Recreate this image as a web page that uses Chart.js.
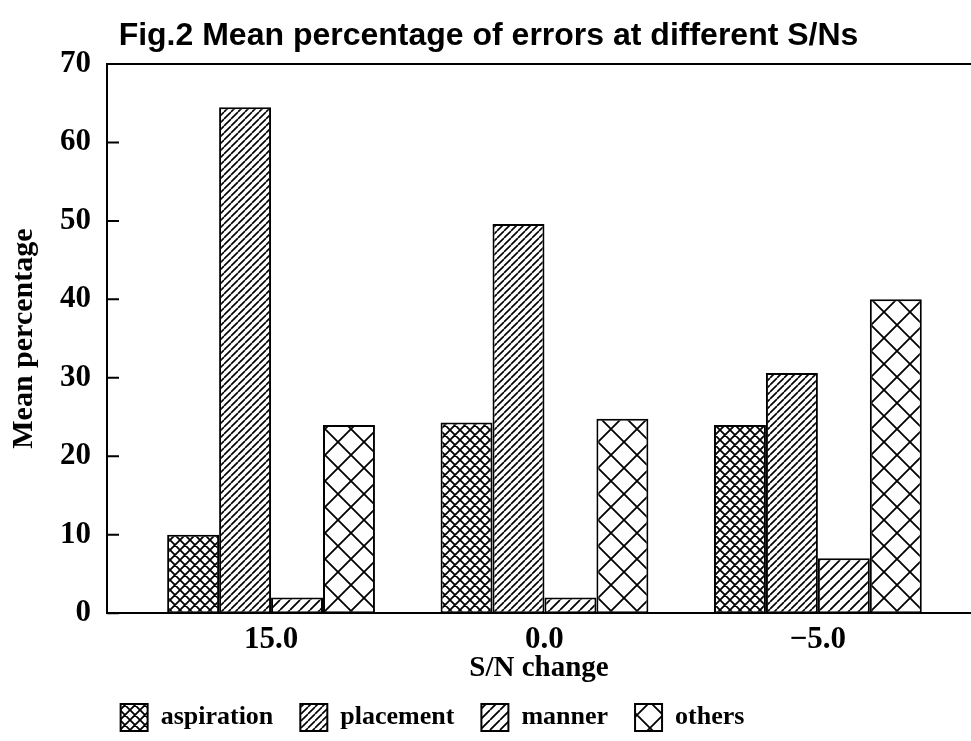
<!DOCTYPE html>
<html>
<head>
<meta charset="utf-8">
<script src="https://cdn.jsdelivr.net/npm/chart.js@4"></script>
<style>
	html, body { margin: 0; padding: 0; background: #fff; }
	#wrap { width: 971px; height: 741px; }
</style>
</head>
<body>
<div id="wrap"><canvas id="barChart" width="971" height="741"></canvas></div>
<script>
// data
var categories = ['15.0', '0.0', '\u22125.0'];
var seriesNames = ['aspiration', 'placement', 'manner', 'others'];
var aspiration = [10, 24.3, 24];
var placement = [64.5, 49.6, 30.6];
var manner = [2, 2, 7];
var others = [24, 24.8, 40];
var yTicks = [0, 10, 20, 30, 40, 50, 60, 70];

var serif = '"Liberation Serif", "Times New Roman", serif';

// hatch patterns
function makeHatch(period, lw, fwd, back) {
	var c = document.createElement('canvas');
	c.width = period; c.height = period;
	var g = c.getContext('2d');
	g.fillStyle = '#fff';
	g.fillRect(0, 0, period, period);
	g.strokeStyle = '#000';
	g.lineWidth = lw;
	g.beginPath();
	for (var o = -period; o <= period; o += period) {
		if (fwd) { g.moveTo(o, period); g.lineTo(o + period, 0); }
		if (back) { g.moveTo(o, 0); g.lineTo(o + period, period); }
	}
	g.stroke();
	return g.createPattern(c, 'repeat');
}

var ctx = document.getElementById('barChart');
var fills = [
	makeHatch(10, 1.8, true, true),
	makeHatch(7, 1.6, true, false),
	makeHatch(10, 1.8, true, false),
	makeHatch(26, 1.8, true, true)
];
var values = [aspiration, placement, manner, others];

// top frame line, inward y ticks, legend nudged left like the original
var frameTicks = {
	id: 'frameTicks',
	afterLayout: function(chart) {
		chart.legend.left -= 56;
		chart.legend.right -= 56;
	},
	afterDraw: function(chart) {
		var a = chart.chartArea, y = chart.scales.y, g = chart.ctx;
		g.save();
		g.strokeStyle = '#000';
		g.lineWidth = 2;
		g.beginPath();
		g.moveTo(a.left, a.top);
		g.lineTo(a.right, a.top);
		yTicks.forEach(function(v) {
			var py = y.getPixelForValue(v);
			g.moveTo(a.left, py);
			g.lineTo(a.left + 12, py);
		});
		g.stroke();
		g.restore();
	}
};

var barChart = new Chart(ctx, {
	type: 'bar',
	data: {
		datasets: seriesNames.map(function(name, k) {
			return {
				label: name,
				data: values[k].map(function(v, i) { return { x: i, y: v }; }),
				backgroundColor: fills[k],
				borderColor: '#000',
				borderWidth: 2,
				borderSkipped: false,
				categoryPercentage: 0.76,
				barPercentage: 1.0
			};
		})
	},
	options: {
		responsive: false,
		animation: false,
		layout: { padding: { left: 6, right: 0, top: 0, bottom: 0 } },
		plugins: {
			title: {
				display: true,
				text: 'Fig.2 Mean percentage of errors at different S/Ns',
				color: '#000',
				font: { family: '"Liberation Sans", Arial, sans-serif', size: 32, weight: 'bold', lineHeight: 1.2 },
				padding: { top: 17, bottom: 8.6 }
			},
			legend: {
				position: 'bottom',
				labels: {
					color: '#000',
					boxWidth: 27,
					boxHeight: 27,
					padding: 27,
					font: { family: serif, size: 26, weight: 'bold' }
				}
			},
			tooltip: { enabled: false }
		},
		scales: {
			x: {
				type: 'linear',
				offset: false,
				min: -0.6,
				max: 2.56,
				afterBuildTicks: function(scale) {
					scale.ticks = categories.map(function(c, i) { return { value: i }; });
				},
				ticks: {
					color: '#000',
					padding: 20.2,
					font: { family: serif, size: 31, weight: 'bold', lineHeight: 0.4 },
					callback: function(v) { return categories[v]; }
				},
				grid: { display: false, drawTicks: false },
				border: { display: true, color: '#000', width: 2 },
				title: {
					display: true,
					text: 'S/N change',
					color: '#000',
					padding: { top: -5, bottom: 1.5 },
					font: { family: serif, size: 29, weight: 'bold', lineHeight: 0.5 }
				}
			},
			y: {
				min: 0,
				max: 70,
				afterBuildTicks: function(scale) {
					scale.ticks = yTicks.map(function(v) { return { value: v }; });
				},
				ticks: {
					color: '#000',
					padding: 16,
					font: { family: serif, size: 31, weight: 'bold' }
				},
				grid: { display: false, drawTicks: false },
				border: { display: true, color: '#000', width: 2 },
				title: {
					display: true,
					text: 'Mean percentage',
					color: '#000',
					padding: { top: 0, bottom: 2 },
					font: { family: serif, size: 30, weight: 'bold' }
				}
			}
		}
	},
	plugins: [frameTicks]
});
</script>
</body>
</html>
